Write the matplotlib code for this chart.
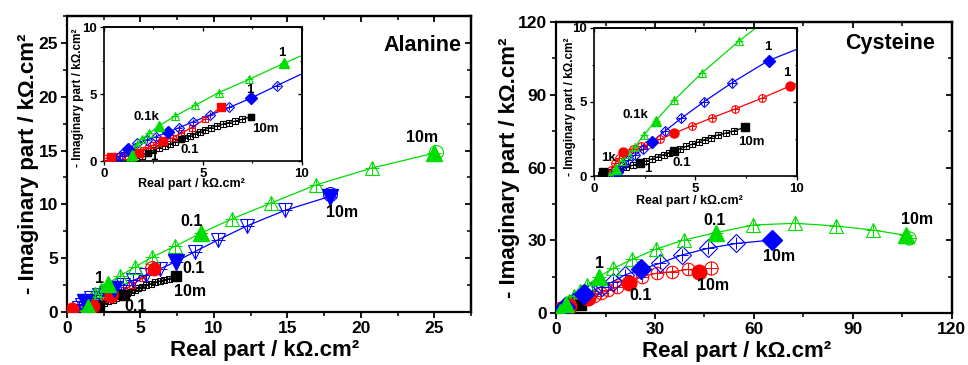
import matplotlib
matplotlib.use("Agg")
import matplotlib.pyplot as plt
from matplotlib.ticker import MultipleLocator

plt.rcParams['font.family'] = ['Liberation Sans', 'DejaVu Sans']
plt.rcParams['font.weight'] = 'bold'

GREEN = '#00dd00'
BLUE = '#0000ff'
RED = '#ff0000'
BLACK = '#000000'

# ---------------- Alanine data (kOhm.cm2) ----------------
ala_green_x = [1.3, 1.35, 1.4, 1.5, 1.65, 1.9, 2.29, 2.79, 3.6, 4.6, 5.79, 7.34, 9.09,
               11.23, 13.86, 16.96, 20.74, 25.0]
ala_green_y = [0.05, 0.2, 0.45, 0.8, 1.2, 1.64, 2.06, 2.64, 3.36, 4.15, 5.1, 6.1, 7.3,
               8.65, 10.11, 11.81, 13.37, 14.76]
ala_green_f = [2, 7, 12, 17]

ala_blue_x = [0.6, 0.8, 1.0, 1.23, 1.65, 2.15, 2.63, 3.22, 3.8, 4.51, 5.35, 6.33, 7.41,
              8.72, 10.28, 12.25, 14.81, 17.87]
ala_blue_y = [0.05, 0.35, 0.65, 0.9, 1.32, 1.57, 1.81, 2.15, 2.49, 2.93, 3.43, 4.0, 4.68,
              5.62, 6.7, 8.0, 9.43, 10.73]
ala_blue_f = [3, 7, 12, 17]

ala_red_x = [0.15, 0.35, 0.6, 0.9, 1.2, 1.5, 1.75, 1.95, 2.2, 2.5, 2.75, 3.0, 3.47, 3.89,
             4.43, 5.1, 5.91]
ala_red_y = [0.25, 0.32, 0.35, 0.35, 0.4, 0.45, 0.6, 0.8, 1.0, 1.2, 1.35, 1.5, 1.74, 2.07,
             2.49, 3.13, 4.0]
ala_red_f = [1, 6, 11, 16]

ala_black_x = [1.4, 1.6, 1.9, 2.2, 2.5, 2.8, 3.1, 3.35, 3.6, 3.89, 4.1, 4.35, 4.6, 4.85,
               5.1, 5.4, 5.7, 6.0, 6.3, 6.6, 6.95, 7.41]
ala_black_y = [0.0, 0.2, 0.4, 0.6, 0.8, 1.0, 1.15, 1.3, 1.45, 1.62, 1.75, 1.9, 2.05, 2.2,
               2.35, 2.5, 2.62, 2.75, 2.87, 2.97, 3.1, 3.31]
ala_black_f = [3, 9, 21]

ala_circ_x = [25.1, 17.9, 5.8]
ala_circ_y = [14.9, 11.0, 4.1]
ala_circ_c = [GREEN, BLUE, RED]

# ---------------- Cysteine data (kOhm.cm2) ----------------
cys_green_x = [0.8, 1.1, 1.4, 1.7, 2.02, 2.46, 3.05, 3.96, 5.3, 7.16, 9.5, 13.0, 17.4,
               23.1, 30.2, 38.8, 48.4, 59.8, 72.4, 84.8, 96.2, 106.1]
cys_green_y = [0.05, 0.5, 1.0, 1.5, 1.98, 2.77, 3.74, 5.14, 6.94, 9.14, 11.6, 15.0, 18.4,
               22.1, 26.3, 30.1, 33.1, 36.3, 37.0, 35.9, 34.2, 32.0]
cys_green_f = [1, 6, 11, 16, 21]

cys_blue_x = [1.0, 1.12, 1.4, 1.7, 2.0, 2.43, 2.87, 3.5, 4.3, 5.42, 6.81, 8.6, 10.8, 13.8,
              17.2, 20.9, 25.8, 31.5, 38.1, 46.2, 54.7, 65.4]
cys_blue_y = [0.02, 0.29, 0.7, 1.05, 1.4, 1.82, 2.32, 3.04, 3.9, 5.02, 6.31, 7.8, 9.0, 10.9,
              12.9, 15.7, 18.0, 20.5, 23.9, 26.7, 28.7, 30.1]
cys_blue_f = [1, 6, 11, 16, 21]

cys_red_x = [0.7, 0.85, 1.05, 1.25, 1.44, 1.9, 2.3, 2.6, 3.25, 3.96, 4.81, 5.83, 6.95,
             8.26, 9.66, 11.5, 13.5, 15.8, 18.4, 22.1, 26.0, 30.5, 35.1, 40.1, 43.3]
cys_red_y = [0.02, 0.4, 0.85, 1.25, 1.64, 1.85, 2.0, 2.1, 2.48, 2.89, 3.38, 3.94, 4.53,
             5.25, 6.08, 7.0, 8.2, 9.4, 10.6, 12.5, 15.0, 16.4, 17.0, 18.0, 17.0]
cys_red_f = [4, 9, 14, 19, 24]

cys_black_x = [0.35, 0.46, 0.7, 1.0, 1.3, 1.6, 1.9, 2.27, 2.55, 2.85, 3.15, 3.45, 3.7,
               3.96, 4.25, 4.55, 4.85, 5.15, 5.45, 5.75, 6.1, 6.5, 6.91, 7.44]
cys_black_y = [0.1, 0.25, 0.3, 0.4, 0.5, 0.6, 0.72, 0.86, 1.0, 1.15, 1.3, 1.45, 1.58,
               1.71, 1.85, 2.0, 2.15, 2.3, 2.45, 2.6, 2.77, 2.9, 3.06, 3.29]
cys_black_f = [1, 7, 13, 23]

cys_circ_x = [107.1, 47.0]
cys_circ_y = [30.8, 18.7]
cys_circ_c = [GREEN, RED]

# frequency labels: (text, x, y)
ala_main_lbl = [('10m', 24.2, 16.2), ('10m', 18.7, 9.2), ('0.1', 8.5, 8.4),
                ('0.1', 8.6, 4.0), ('10m', 8.4, 1.9), ('1', 2.2, 3.1), ('0.1', 4.7, 0.5)]
ala_in_lbl = [('1', 8.97, 8.05), ('1', 7.37, 5.3), ('0.1k', 2.16, 3.31),
              ('10m', 8.13, 2.37), ('0.1', 4.34, 0.82), ('1', 2.53, 0.32)]
cys_main_lbl = [('10m', 109.3, 38.4), ('0.1', 48.2, 38.0), ('10m', 67.7, 23.2),
                ('10m', 47.5, 11.5), ('0.1', 25.5, 7.4), ('1', 13.1, 20.5)]
cys_in_lbl = [('1', 8.54, 8.74), ('1', 9.52, 6.98), ('0.1k', 2.05, 4.12),
              ('10m', 7.77, 2.32), ('0.1', 4.32, 0.9), ('1k', 0.74, 1.2), ('1', 2.67, 0.45)]

YLAB = '- Imaginary part / k\u03a9.cm\u00b2'
XLAB = 'Real part / k\u03a9.cm\u00b2'


def series(ax, x, y, filled, color, marker, ms, fmarker=None, fms=None, lw=0.9):
    fmarker = fmarker or marker
    fms = fms or ms * 1.15
    ax.plot(x, y, '-', color=color, lw=lw, zorder=2)
    ax.plot(x, y, ls='none', marker=marker, ms=ms, mfc='none', mec=color, mew=0.8, zorder=3)
    ax.plot(x, y, ls='none', marker='+', ms=ms * 0.95, mec=color, mew=0.7, zorder=3)
    fx = [x[i] for i in filled]
    fy = [y[i] for i in filled]
    ax.plot(fx, fy, ls='none', marker=fmarker, ms=fms, mfc=color, mec=color, zorder=4)


def style(ax, xmax, ymax, major, minor, fs, lw, tl):
    ax.set_xlim(0, xmax)
    ax.set_ylim(0, ymax)
    ax.xaxis.set_major_locator(MultipleLocator(major))
    ax.xaxis.set_minor_locator(MultipleLocator(minor))
    ax.yaxis.set_major_locator(MultipleLocator(major))
    ax.yaxis.set_minor_locator(MultipleLocator(minor))
    for s in ax.spines.values():
        s.set_linewidth(lw)
    ax.tick_params(which='major', direction='out', length=tl, width=lw * 0.8,
                   labelsize=fs, pad=2)
    ax.tick_params(which='minor', direction='out', length=tl * 0.6, width=lw * 0.7)
    for lab in ax.get_xticklabels() + ax.get_yticklabels():
        lab.set_fontweight('bold')
    # inward ticks on top and right
    top = ax.secondary_xaxis('top')
    right = ax.secondary_yaxis('right')
    for sec in (top, right):
        sec.tick_params(which='major', direction='in', length=tl, width=lw * 0.8)
        sec.tick_params(which='minor', direction='in', length=tl * 0.6, width=lw * 0.7)
        for s in sec.spines.values():
            s.set_linewidth(lw)
    top.xaxis.set_major_locator(MultipleLocator(major))
    top.xaxis.set_minor_locator(MultipleLocator(minor))
    right.yaxis.set_major_locator(MultipleLocator(major))
    right.yaxis.set_minor_locator(MultipleLocator(minor))
    top.set_xticklabels([])
    right.set_yticklabels([])


fig = plt.figure(figsize=(9.68, 3.65), dpi=100)
ax1 = fig.add_axes([0.0692, 0.1452, 0.4174, 0.8110])
ax2 = fig.add_axes([0.5744, 0.1425, 0.4090, 0.7970])
ax1in = fig.add_axes([0.1074, 0.5589, 0.2045, 0.3670])
ax2in = fig.add_axes([0.6136, 0.5178, 0.2097, 0.4055])

# ---------- Alanine main ----------
series(ax1, ala_black_x, ala_black_y, ala_black_f, BLACK, 's', 5, fms=7)
series(ax1, ala_red_x, ala_red_y, ala_red_f, RED, 's', 5, fmarker='o', fms=9)
series(ax1, ala_blue_x, ala_blue_y, ala_blue_f, BLUE, 'v', 10.5, fms=11.5)
series(ax1, ala_green_x, ala_green_y, ala_green_f, GREEN, '^', 10.5, fms=11.5)
for cx, cy, cc in zip(ala_circ_x, ala_circ_y, ala_circ_c):
    ax1.plot(cx, cy, ls='none', marker='o', ms=10, mfc='none', mec=cc, mew=0.8, zorder=4)
style(ax1, 27.5, 27.5, 5, 2.5, 12.5, 1.6, 4.5)
for t, x, y in ala_main_lbl:
    ax1.text(x, y, t, ha='center', va='center', fontsize=11.5, fontweight='bold', zorder=6)
ax1.text(24.2, 24.8, 'Alanine', ha='center', va='center', fontsize=15.5, fontweight='bold')
ax1.set_xlabel(XLAB, fontsize=16, fontweight='bold')
ax1.set_ylabel(YLAB, fontsize=16, fontweight='bold')
ax1.xaxis.set_label_coords(0.49, -0.095)
ax1.yaxis.set_label_coords(-0.07, 0.5)

# ---------- Alanine inset ----------
series(ax1in, ala_black_x, ala_black_y, ala_black_f, BLACK, 's', 3.8, fms=5)
series(ax1in, ala_red_x, ala_red_y, ala_red_f, RED, 's', 3.8, fms=5.5)
series(ax1in, ala_blue_x, ala_blue_y, ala_blue_f, BLUE, 'D', 5, fms=6)
series(ax1in, ala_green_x, ala_green_y, ala_green_f, GREEN, '^', 6, fms=7)
style(ax1in, 10, 10, 5, 2.5, 9.5, 1.2, 3)
for t, x, y in ala_in_lbl:
    ax1in.text(x, y, t, ha='center', va='center', fontsize=9.5, fontweight='bold', zorder=6)
ax1in.set_xlabel(XLAB, fontsize=9, fontweight='bold')
ax1in.set_ylabel(YLAB, fontsize=8.5, fontweight='bold')
ax1in.xaxis.set_label_coords(0.44, -0.13)
ax1in.yaxis.set_label_coords(-0.1, 0.47)

# ---------- Cysteine main ----------
series(ax2, cys_black_x, cys_black_y, cys_black_f, BLACK, 's', 5, fms=7)
series(ax2, cys_red_x, cys_red_y, cys_red_f, RED, 'o', 9, fms=10.5)
series(ax2, cys_blue_x, cys_blue_y, cys_blue_f, BLUE, 'D', 9, fms=10.5)
series(ax2, cys_green_x, cys_green_y, cys_green_f, GREEN, '^', 10, fms=11.5)
for cx, cy, cc in zip(cys_circ_x, cys_circ_y, cys_circ_c):
    ax2.plot(cx, cy, ls='none', marker='o', ms=9.5, mfc='none', mec=cc, mew=0.8, zorder=4)
    ax2.plot(cx, cy, ls='none', marker='+', ms=9.5, mec=cc, mew=0.7, zorder=4)
style(ax2, 120, 120, 30, 15, 12.5, 1.6, 4.5)
for t, x, y in cys_main_lbl:
    ax2.text(x, y, t, ha='center', va='center', fontsize=11.5, fontweight='bold', zorder=6)
ax2.text(101.2, 111.2, 'Cysteine', ha='center', va='center', fontsize=15.5, fontweight='bold')
ax2.set_xlabel(XLAB, fontsize=16, fontweight='bold')
ax2.set_ylabel(YLAB, fontsize=16, fontweight='bold')
ax2.xaxis.set_label_coords(0.457, -0.095)
ax2.yaxis.set_label_coords(-0.09, 0.5)

# ---------- Cysteine inset ----------
series(ax2in, cys_black_x, cys_black_y, cys_black_f, BLACK, 's', 4, fms=5.5)
series(ax2in, cys_red_x, cys_red_y, cys_red_f, RED, 'o', 5.5, fms=6.5)
series(ax2in, cys_blue_x, cys_blue_y, cys_blue_f, BLUE, 'D', 5.5, fms=6.5)
series(ax2in, cys_green_x, cys_green_y, cys_green_f, GREEN, '^', 6, fms=7)
style(ax2in, 10, 10, 5, 2.5, 9.5, 1.2, 3)
for t, x, y in cys_in_lbl:
    ax2in.text(x, y, t, ha='center', va='center', fontsize=9.5, fontweight='bold', zorder=6)
ax2in.set_xlabel(XLAB, fontsize=9, fontweight='bold')
ax2in.set_ylabel(YLAB, fontsize=8.5, fontweight='bold')
ax2in.xaxis.set_label_coords(0.47, -0.125)
ax2in.yaxis.set_label_coords(-0.09, 0.47)

fig.savefig('out.png', dpi=100)
